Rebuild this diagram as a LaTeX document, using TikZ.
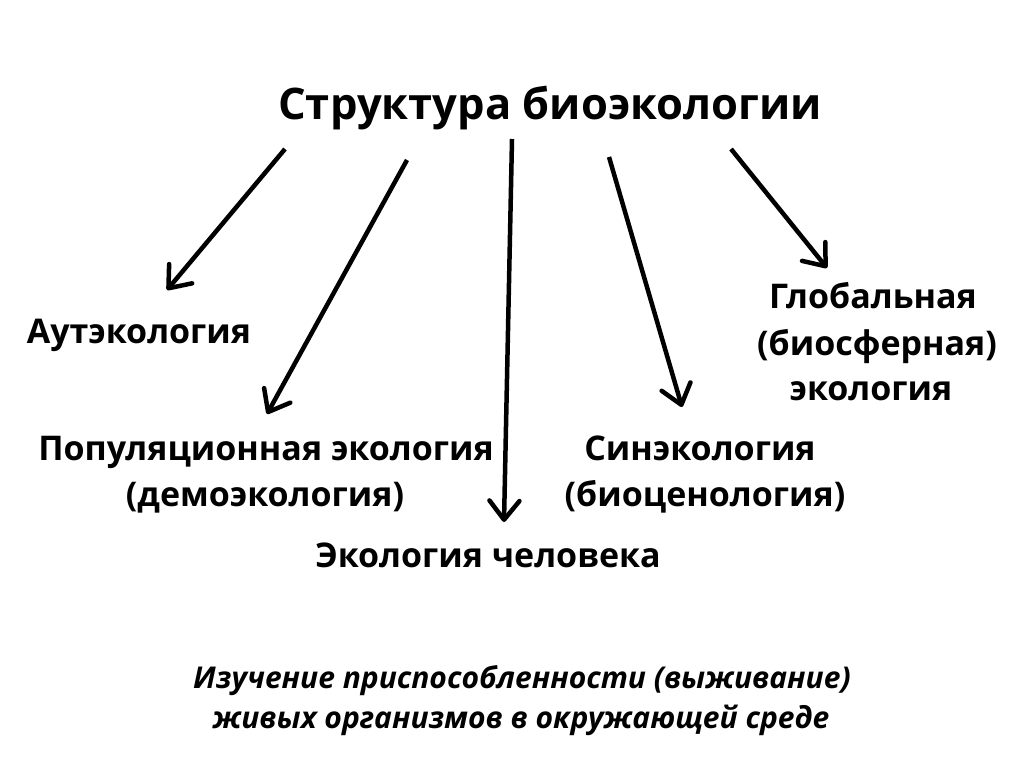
\documentclass[tikz,border=0pt]{standalone}
\usepackage{fontspec}
\setmainfont{Open Sans}
\usetikzlibrary{arrows.meta}
\begin{document}
\begin{tikzpicture}[x=1pt,y=-1pt,
  lbl/.style={anchor=base,inner sep=0pt,font=\bfseries\fontsize{34}{40}\selectfont},
  ttl/.style={anchor=base,inner sep=0pt,font=\bfseries\fontsize{43.5}{52}\selectfont},
  note/.style={anchor=base,inner sep=0pt,font=\bfseries\itshape\fontsize{30}{36}\selectfont},
  arr/.style={line width=4.5pt,-{Straight Barb[length=19pt,width=30pt,round]}}]
\useasboundingbox[fill=white] (0,0) rectangle (1024,767);
\node[ttl] (title) at (550,120) {Структура биоэкологии};
\node[lbl] (aut) at (139,343) {Аутэкология};
\node[lbl] (pop1) at (266,460) {Популяционная экология};
\node[lbl] (pop2) at (265,506) {(демоэкология)};
\node[lbl] (hum) at (488,567) {Экология человека};
\node[lbl] (sin1) at (700,460) {Синэкология};
\node[lbl] (sin2) at (705,506) {(биоценология)};
\node[lbl] (glo1) at (873,308) {Глобальная};
\node[lbl] (glo2) at (877,355) {(биосферная)};
\node[lbl] (glo3) at (871,400) {экология};
\node[note] (n1) at (522,688) {Изучение приспособленности (выживание)};
\node[note] (n2) at (521,728) {живых организмов в окружающей среде};
\coordinate (s1) at (285,149); \coordinate (t1) at (167,290);
\coordinate (s2) at (407,160); \coordinate (t2) at (267,414);
\coordinate (s3) at (512,139); \coordinate (t3) at (504,522);
\coordinate (s4) at (609,157); \coordinate (t4) at (682,407);
\coordinate (s5) at (731,149); \coordinate (t5) at (827,268);
\draw[arr] (s1) -- (t1);
\draw[arr] (s2) -- (t2);
\draw[arr] (s3) -- (t3);
\draw[arr] (s4) -- (t4);
\draw[arr] (s5) -- (t5);
\end{tikzpicture}
\end{document}
